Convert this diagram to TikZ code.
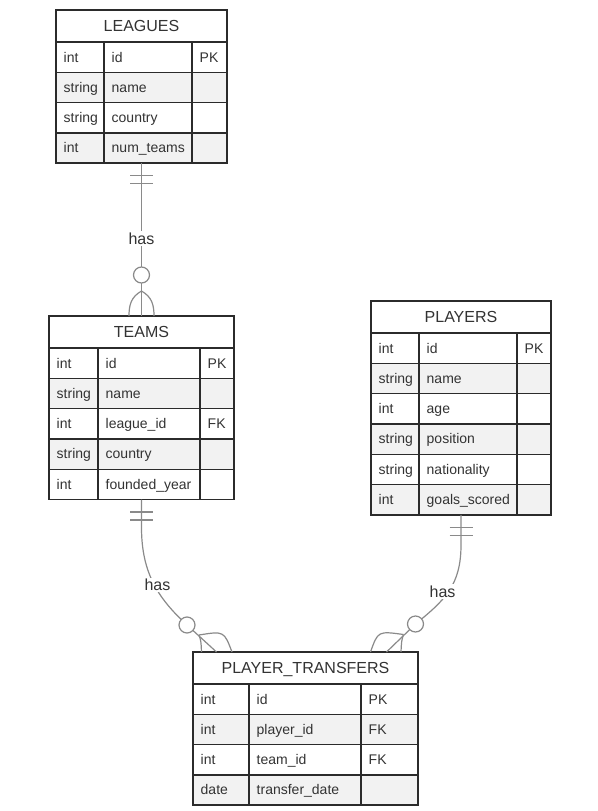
\documentclass[tikz,border=0pt]{standalone}
\usepackage{fontspec}
\setmainfont{Liberation Sans}
\usetikzlibrary{calc, positioning}
\definecolor{ERline}{HTML}{2B2B2B}
\definecolor{ERtext}{HTML}{333333}
\definecolor{ERgray}{HTML}{F2F2F2}
\definecolor{ERlink}{HTML}{8A8A8A}

\begin{document}
\begin{tikzpicture}[x=1pt, y=-1pt]
\tikzset{
  hdr/.style={draw=ERline, line width=1.2pt, fill=white, anchor=north west,
    inner sep=0pt, outer sep=0pt, minimum height=32pt,
    text height=11.5pt, text depth=0.5pt,
    text=ERtext, font=\fontsize{16}{19}\selectfont},
  rowbox/.style={draw=ERline, line width=1.2pt, anchor=north west,
    inner sep=0pt, outer sep=0pt, minimum height=30.3pt},
  cell/.style={anchor=base west, inner sep=0pt, text=ERtext,
    font=\fontsize{14}{17}\selectfont},
  colline/.style={draw=ERline, line width=1.2pt},
  outline/.style={draw=ERline, line width=1.8pt},
  link/.style={draw=ERlink, line width=1.2pt},
  ring/.style={circle, draw=ERlink, line width=1.2pt, fill=white,
    minimum size=16pt, inner sep=0pt},
  rel/.style={fill=white, inner sep=1.5pt, text=ERtext,
    font=\fontsize{16}{19}\selectfont},
}
  \useasboundingbox (0,0) rectangle (597,811);

  % LEAGUES table
  \node[hdr, minimum width=171pt] (leagues) at (56,10) {LEAGUES};
  \foreach \ty/\nm/\ky/\fc [count=\i from 0] in
    {int/id/PK/white, string/name//ERgray, string/country//white,
     int/num\_teams//ERgray} {
    \node[rowbox, minimum width=171pt, fill=\fc] (leagues-\i) at (56,{42+\i*30.3}) {};
    \node[cell] at (63.5,{62+\i*30.3}) {\ty};
    \node[cell] at (111.5,{62+\i*30.3}) {\nm};
    \node[cell] at (199.5,{62+\i*30.3}) {\ky};
  }
  \draw[colline] (104,42) -- (104,163.2) (192,42) -- (192,163.2);
  \draw[outline] (leagues.north west) rectangle (leagues-3.south east);

  % TEAMS table
  \node[hdr, minimum width=185pt] (teams) at (49,316) {TEAMS};
  \foreach \ty/\nm/\ky/\fc [count=\i from 0] in
    {int/id/PK/white, string/name//ERgray, int/league\_id/FK/white,
     string/country//ERgray, int/founded\_year//white} {
    \node[rowbox, minimum width=185pt, fill=\fc] (teams-\i) at (49,{348+\i*30.3}) {};
    \node[cell] at (56.5,{368+\i*30.3}) {\ty};
    \node[cell] at (105.5,{368+\i*30.3}) {\nm};
    \node[cell] at (207.5,{368+\i*30.3}) {\ky};
  }
  \draw[colline] (98,348) -- (98,499.5) (200,348) -- (200,499.5);
  \draw[outline] (teams.north west) rectangle (teams-4.south east);

  % PLAYERS table
  \node[hdr, minimum width=180pt] (players) at (371,301) {PLAYERS};
  \foreach \ty/\nm/\ky/\fc [count=\i from 0] in
    {int/id/PK/white, string/name//ERgray, int/age//white,
     string/position//ERgray, string/nationality//white,
     int/goals\_scored//ERgray} {
    \node[rowbox, minimum width=180pt, fill=\fc] (players-\i) at (371,{333+\i*30.3}) {};
    \node[cell] at (378.5,{353+\i*30.3}) {\ty};
    \node[cell] at (426.5,{353+\i*30.3}) {\nm};
    \node[cell] at (524.5,{353+\i*30.3}) {\ky};
  }
  \draw[colline] (419,333) -- (419,514.8) (517,333) -- (517,514.8);
  \draw[outline] (players.north west) rectangle (players-5.south east);

  % PLAYER_TRANSFERS table
  \node[hdr, minimum width=225pt] (transfers) at (193,652) {PLAYER\_TRANSFERS};
  \foreach \ty/\nm/\ky/\fc [count=\i from 0] in
    {int/id/PK/white, int/player\_id/FK/ERgray, int/team\_id/FK/white,
     date/transfer\_date//ERgray} {
    \node[rowbox, minimum width=225pt, fill=\fc] (transfers-\i) at (193,{684+\i*30.3}) {};
    \node[cell] at (200.5,{704+\i*30.3}) {\ty};
    \node[cell] at (256.5,{704+\i*30.3}) {\nm};
    \node[cell] at (368.5,{704+\i*30.3}) {\ky};
  }
  \draw[colline] (249,684) -- (249,805.2) (361,684) -- (361,805.2);
  \draw[outline] (transfers.north west) rectangle (transfers-3.south east);

  % LEAGUES has TEAMS
  \draw[link] (leagues-3.south) -- (teams.north);
  \draw[link] ($(leagues-3.south)+(-11.5,12.5)$) -- ++(23,0)
              ($(leagues-3.south)+(-11.5,20.5)$) -- ++(23,0);
  \node[rel] (has-lt) at (141.5,238.5) {has};
  \node[ring] (ring-lt) at (141.5,275) {};
  \draw[link] (141.5,291) .. controls (131,297) and (129,305) .. (129,316);
  \draw[link] (141.5,291) .. controls (152,297) and (154,305) .. (154,316);

  % TEAMS has PLAYER_TRANSFERS
  \coordinate (tp-c) at (187,625);
  \coordinate (tp-e) at ($(transfers.north west)+(23.5,0)$);
  \draw[link] (teams-4.south) -- ++(0,28)
    .. controls (141.5,575) and (160,600) .. (tp-c) -- (tp-e);
  \draw[link] ($(teams-4.south)+(-11.5,12.5)$) -- ++(23,0)
              ($(teams-4.south)+(-11.5,20.5)$) -- ++(23,0);
  \node[rel] (has-tp) at (157.5,585) {has};
  \node[ring] (ring-tp) at (tp-c) {};
  \draw[link] (199,635) .. controls (201,641) .. (201.5,652);
  \draw[link] (199,635) .. controls (224,631) .. (232,652);

  % PLAYERS has PLAYER_TRANSFERS
  \coordinate (pp-c) at (415.5,624);
  \coordinate (pp-e) at ($(transfers.north west)+(193.5,0)$);
  \draw[link] (players-5.south) -- ++(0,30)
    .. controls (461,585) and (445,600) .. (pp-c) -- (pp-e);
  \draw[link] ($(players-5.south)+(-11.5,12.5)$) -- ++(23,0)
              ($(players-5.south)+(-11.5,20.5)$) -- ++(23,0);
  \node[rel] (has-pp) at (442.5,591.5) {has};
  \node[ring] (ring-pp) at (pp-c) {};
  \draw[link] (403.5,634.5) .. controls (401.5,641) .. (401,652);
  \draw[link] (403.5,634.5) .. controls (378,631) .. (370.5,652);
\end{tikzpicture}
\end{document}
